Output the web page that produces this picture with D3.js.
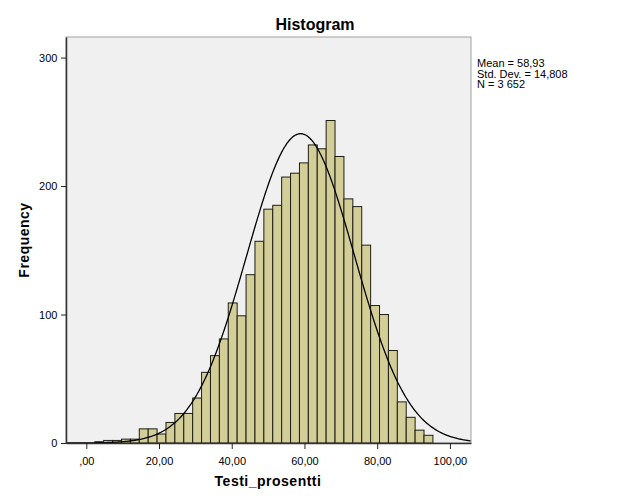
<!DOCTYPE html>
<html><head><meta charset="utf-8">
<script src="https://cdn.jsdelivr.net/npm/d3@7"></script>
<style>body{margin:0;background:#fff;} svg{display:block;font-family:"Liberation Sans",Arial,sans-serif;}</style>
</head><body>
<script>
// Data
const binStart = 2.34;      // lower edge of first bin
const binWidth = 2.447;     // bin width
const counts = [1,2,2,3,3,11,11,7,16,23,23,35,55,68,81,109,99,131,157,182,185,207,210,218,232,229,251,223,190,184,154,107,100,72,32,20,10,6];
const xTicks = [0,20,40,60,80,100];
const xTickLabels = [",00","20,00","40,00","60,00","80,00","100,00"];
const yTicks = [0,100,200,300];
const statsLines = ["Mean = 58,93","Std. Dev. = 14,808","N = 3 652"];
const mean = 58.93, sd = 14.808, N = 3652;

const W = 629, H = 504;
const plot = {left: 66, top: 37, right: 471, bottom: 443};
const svg = d3.select("body").append("svg").attr("width", W).attr("height", H);

const x = d3.scaleLinear().domain([-5.58, 105.8]).range([plot.left, plot.right]);
const y = d3.scaleLinear().domain([0, 316]).range([plot.bottom, plot.top]);

svg.append("rect").attr("x", plot.left).attr("y", plot.top)
  .attr("width", plot.right - plot.left).attr("height", plot.bottom - plot.top)
  .attr("fill", "#f0f0f0").attr("stroke", "#a0a0a0").attr("stroke-width", 1);

const bins = counts.map((c, i) => ({x0: binStart + i * binWidth, x1: binStart + (i + 1) * binWidth, c}));
svg.append("g").selectAll("rect").data(bins).join("rect")
  .attr("x", d => x(d.x0)).attr("y", d => y(d.c))
  .attr("width", d => x(d.x1) - x(d.x0)).attr("height", d => y(0) - y(d.c))
  .attr("fill", "#d3ce97").attr("stroke", "#1e1e14").attr("stroke-width", 1);

// normal curve
const curveXs = d3.range(x.domain()[0], x.domain()[1] + 0.01, 0.25);
const pdf = v => N * binWidth / (sd * Math.sqrt(2 * Math.PI)) * Math.exp(-0.5 * ((v - mean) / sd) ** 2);
svg.append("path").datum(curveXs)
  .attr("d", d3.line().x(v => x(v)).y(v => y(pdf(v))).curve(d3.curveBasis))
  .attr("fill", "none").attr("stroke", "#000").attr("stroke-width", 1.3);

// axes
const xAxis = svg.append("g").attr("transform", `translate(0,${plot.bottom})`)
  .call(d3.axisBottom(x).tickValues(xTicks).tickFormat((d, i) => xTickLabels[i]).tickSize(6).tickSizeOuter(0));
const yAxis = svg.append("g").attr("transform", `translate(${plot.left},0)`)
  .call(d3.axisLeft(y).tickValues(yTicks).tickSize(5).tickSizeOuter(0));
[xAxis, yAxis].forEach(g => {
  g.select(".domain").attr("stroke", "#333").attr("stroke-width", 1.5);
  g.selectAll(".tick line").attr("stroke", "#222");
  g.selectAll("text").attr("fill", "#000").attr("font-size", 11).attr("font-family", "Liberation Sans, Arial, sans-serif");
});
xAxis.selectAll("text").attr("dy", "1.2em");
yAxis.selectAll("text").attr("dx", "-0.05em");

// titles
svg.append("text").attr("x", 315).attr("y", 30).attr("text-anchor", "middle")
  .attr("font-size", 16).attr("font-weight", "bold").text("Histogram");
svg.append("text").attr("x", 268).attr("y", 486).attr("text-anchor", "middle")
  .attr("font-size", 14).attr("font-weight", "bold").attr("letter-spacing", 0.5).text("Testi_prosentti");
svg.append("text").attr("transform", "translate(29,240) rotate(-90)").attr("text-anchor", "middle")
  .attr("font-size", 14).attr("font-weight", "bold").attr("letter-spacing", 0.5).text("Frequency");

svg.append("g").selectAll("text").data(statsLines).join("text")
  .attr("x", 477).attr("y", (d, i) => 67 + i * 10.5)
  .attr("font-size", 11).text(d => d);
</script>
</body></html>
